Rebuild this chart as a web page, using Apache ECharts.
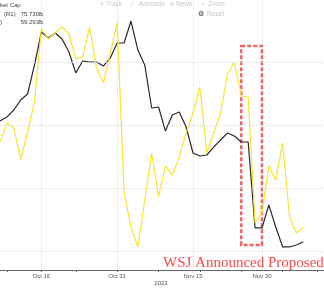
<!DOCTYPE html>
<html><head><meta charset="utf-8">
<script src="https://cdn.jsdelivr.net/npm/echarts@6/dist/echarts.min.js"></script>
<style>html,body{margin:0;padding:0;background:#fff}#c{width:324px;height:288px}</style>
</head><body><div id="c"></div>
<script>
const dates = ['Oct 6','Oct 9','Oct 10','Oct 11','Oct 12','Oct 13','Oct 16','Oct 17','Oct 18','Oct 19','Oct 20','Oct 23','Oct 24','Oct 25','Oct 26','Oct 27','Oct 30','Oct 31','Nov 1','Nov 2','Nov 3','Nov 6','Nov 7','Nov 8','Nov 9','Nov 10','Nov 13','Nov 14','Nov 15','Nov 16','Nov 17','Nov 20','Nov 21','Nov 22','Nov 24','Nov 27','Nov 28','Nov 29','Nov 30','Dec 1','Dec 4','Dec 5','Dec 6','Dec 7','Dec 8','Dec 11','Dec 12','Dec 13'];
const capBlack = [85.32,85.63,86.19,86.98,87.46,89.76,92.38,91.90,92.30,91.83,90.79,89.13,90.08,90.00,90.00,89.68,90.32,91.51,91.51,93.25,90.95,89.76,86.35,86.43,84.52,85.79,86.03,84.84,82.78,82.54,82.62,83.25,83.81,84.37,84.13,83.65,83.65,76.83,76.83,78.65,76.90,75.32,75.32,75.48,75.73];
const capYellow = [66.05,67.56,67.16,64.70,66.77,69.23,75.02,74.23,74.70,75.18,74.62,72.64,72.80,75.18,71.92,70.73,73.11,75.50,62.08,59.30,57.72,61.45,65.18,61.69,64.15,63.43,64.86,66.77,68.35,70.42,65.18,66.77,68.35,71.45,72.40,69.70,69.62,59.62,60.42,64.15,63.03,65.97,60.10,58.83,59.29];
const tickLabels = ['Oct 16','Oct 31','Nov 15','Nov 30'];
const tickDates = ['Oct 9','Oct 16','Oct 23','Oct 31','Nov 8','Nov 16','Nov 27','Dec 5','Dec 12'];
const gridValues = [75, 80, 85, 90];
const boxDates = ['Nov 27', 'Nov 30'];
const boxRange = [75.48, 91.27];
const legendTitle = 'ket Cap';
const legendRows = [['(R1)', '75.730B'], [')', '59.293B']];
const toolItems = [['+', 'Track'], ['⁄', 'Annotate'], ['≡', 'News'], ['⌕', 'Zoom']];
const yearLabel = '2023';
const noteText = 'WSJ Announced Proposed';

const chart = echarts.init(document.getElementById('c'), null, {renderer: 'canvas'});
const graphics = [];
graphics.push({type:'text', left:0, top:2, style:{text:legendTitle, font:'6px "Liberation Sans"', fill:'#444'}});
legendRows.forEach((r, i) => {
  graphics.push({type:'text', x: i === 0 ? 4 : 0, y: 14 + i*8, style:{text:r[0], font:'6px "Liberation Sans"', fill:'#444', textVerticalAlign:'middle'}});
  graphics.push({type:'text', x: 43, y: 14 + i*8, style:{text:r[1], font:'6px "Liberation Sans"', fill:'#444', textAlign:'right', textVerticalAlign:'middle'}});
});
const toolX = [99, 132, 169, 201];
toolItems.forEach((t, i) => {
  graphics.push({type:'text', x: toolX[i], y: 4, style:{text:t[0], font:'7px "DejaVu Sans"', fill:'#cfcfcf', textVerticalAlign:'middle'}});
  graphics.push({type:'text', x: toolX[i] + 7, y: 4, style:{text:t[1], font:'6.5px "Liberation Sans"', fill:'#c8c8c8', textVerticalAlign:'middle'}});
});
graphics.push({type:'text', x: 198, y: 14, style:{text:'⚙', font:'7px "DejaVu Sans"', fill:'#333', textVerticalAlign:'middle'}});
graphics.push({type:'text', x: 207, y: 14, style:{text:'Reset', font:'6.5px "Liberation Sans"', fill:'#c8c8c8', textVerticalAlign:'middle'}});
graphics.push({type:'text', x: 161, y: 283, style:{text:yearLabel, font:'6px "Liberation Sans"', fill:'#555', textAlign:'center', textVerticalAlign:'middle'}});
graphics.push({type:'text', x: 163, y: 263.5, z: 100, style:{text:noteText, font:'15px "Liberation Serif"', fill:'#ff4a4a', textVerticalAlign:'middle'}});

chart.setOption({
  animation: false,
  backgroundColor: '#fff',
  grid: {left: -3, right: -2, top: 0, bottom: 18, containLabel: false},
  xAxis: {
    type: 'category', data: dates, boundaryGap: false,
    axisLine: {lineStyle: {color: '#666', width: 1}},
    axisTick: {show: true, length: 2, lineStyle: {color: '#666'}, interval: (i, v) => tickDates.includes(dates[i])},
    axisLabel: {interval: (i, v) => tickLabels.includes(v), fontSize: 6, color: '#555', margin: 3, fontFamily: 'Liberation Sans'},
    splitLine: {show: true, interval: (i, v) => tickLabels.includes(dates[i]), lineStyle: {type: 'dotted', color: '#e2e2e2', width: 1}}
  },
  yAxis: [
    {type: 'value', min: 73.492, max: 94.921, show: false, splitLine: {show: false}},
    {type: 'value', min: 55.892, max: 77.321, show: false, splitLine: {show: false}}
  ],
  graphic: graphics,
  series: [
    {
      type: 'line', name: 'Black', data: capBlack, yAxisIndex: 0, symbol: 'none',
      lineStyle: {color: '#2a2a2a', width: 1.2}, z: 3,
      markLine: {silent: true, symbol: 'none', label: {show: false},
        lineStyle: {type: 'dotted', color: '#dcdcdc', width: 1},
        data: gridValues.map(v => ({yAxis: v}))},
      markArea: {silent: true,
        itemStyle: {color: 'rgba(0,0,0,0)', borderColor: '#f06464', borderWidth: 2.5, borderType: [4, 2]},
        data: [[{xAxis: boxDates[0], yAxis: boxRange[1]}, {xAxis: boxDates[1], yAxis: boxRange[0]}]]}
    },
    {
      type: 'line', name: 'Yellow', data: capYellow, yAxisIndex: 1, symbol: 'none',
      lineStyle: {color: '#f7e52e', width: 1.2}, z: 4
    }
  ]
});
</script></body></html>
